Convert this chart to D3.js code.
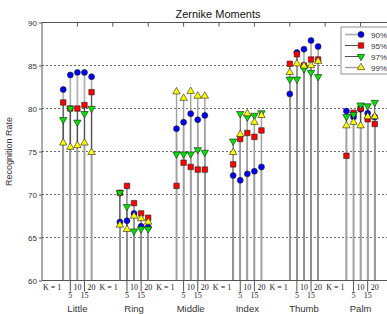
<!DOCTYPE html>
<html>
<head>
<meta charset="utf-8">
<script src="https://cdn.jsdelivr.net/npm/d3@7"></script>
<style>
  body { margin: 0; background: #fff; }
  svg { display: block; }
</style>
</head>
<body>
<svg id="chart"></svg>
<script>
const groups = ["Little", "Ring", "Middle", "Index", "Thumb", "Palm"];
const kValues = [1, 5, 10, 15, 20];
const seriesNames = ["90%", "95%", "97%", "99%"];

// recognition rate per group, K = 1, 5, 10, 15, 20
const rate90 = [
  82.2, 83.9, 84.2, 84.2, 83.7,
  66.8, 66.95, 67.8, 66.3, 66.2,
  77.65, 78.4, 79.4, 78.7, 79.2,
  72.2, 71.65, 72.4, 72.7, 73.2,
  81.7, 86.5, 86.9, 87.9, 87.2,
  79.7, 79.0, 79.9, 79.45, 79.0
];
const rate95 = [
  80.7, 80.0, 80.0, 80.4, 81.9,
  70.2, 71.0, 69.0, 67.8, 67.3,
  71.0, 73.7, 73.2, 72.9, 72.9,
  73.5, 76.45, 77.15, 76.7, 77.45,
  85.2, 86.3, 85.0, 85.7, 85.7,
  74.5, 79.5, 80.0, 78.75, 78.2
];
const rate97 = [
  78.7, 80.0, 78.4, 79.4, 80.0,
  70.2, 68.6, 65.75, 66.0, 66.0,
  74.7, 74.7, 74.7, 75.2, 74.9,
  76.2, 79.4, 79.0, 79.2, 79.5,
  83.4, 83.4, 84.6, 84.2, 83.7,
  79.05, 79.3, 80.4, 80.3, 80.7
];
const rate99 = [
  76.0, 75.5, 75.7, 76.0, 74.9,
  66.45, 65.95, 67.5, 67.2, 66.8,
  81.95, 81.2, 82.0, 81.45, 81.45,
  74.9, 77.0, 79.4, 78.4, 79.2,
  84.2, 85.2, 84.95, 85.0, 85.5,
  78.0, 78.4, 78.0, 79.05, 79.05
];
const yTicks = [60, 65, 70, 75, 80, 85, 90];

const W = 387, H = 314;
const svg = d3.select("#chart").attr("width", W).attr("height", H);

const x = d3.scaleLinear().domain([0, 50]).range([42, 396]);
const y = d3.scaleLinear().domain([60, 90]).range([280.5, 22.5]);
const pos = (g, i) => 8 * g + i + 3;

const series = [
  { name: seriesNames[0], values: rate90, fill: "#0000f0", stem: "#b4b4b4", sw: 1.8, shape: d3.symbolCircle, size: 28 },
  { name: seriesNames[1], values: rate95, fill: "#ff0000", stem: "#505050", sw: 1, shape: d3.symbolSquare, size: 30 },
  { name: seriesNames[2], values: rate97, fill: "#00e000", stem: "#505050", sw: 1, shape: d3.symbolTriangle, size: 24, flip: true },
  { name: seriesNames[3], values: rate99, fill: "#ffff00", stem: "#a0a0a0", sw: 1.4, shape: d3.symbolTriangle, size: 24 }
];

const points = s => s.values.map((v, j) => ({ v, x: x(pos(Math.floor(j / 5), j % 5)) }));

// grid
svg.append("g").selectAll("line")
  .data(yTicks.filter(t => t > 60 && t < 90))
  .join("line")
  .attr("x1", x(0)).attr("x2", W)
  .attr("y1", d => y(d)).attr("y2", d => y(d))
  .attr("stroke", "#444").attr("stroke-width", 0.8)
  .attr("stroke-dasharray", "2,2");

// stems
series.forEach(s => {
  svg.append("g").selectAll("line")
    .data(points(s))
    .join("line")
    .attr("x1", d => d.x).attr("x2", d => d.x)
    .attr("y1", y(60)).attr("y2", d => y(d.v))
    .attr("stroke", s.stem).attr("stroke-width", s.sw);
});

// frame
svg.append("path")
  .attr("d", `M${W},${y(90)}H${x(0)}V${y(60)}H${W}`)
  .attr("fill", "none").attr("stroke", "#555").attr("stroke-width", 1);

// top ticks
svg.append("g").selectAll("line")
  .data(d3.range(5, 51, 5))
  .join("line")
  .attr("x1", d => x(d)).attr("x2", d => x(d))
  .attr("y1", y(90)).attr("y2", y(90) + 4)
  .attr("stroke", "#555");

// y axis
const yAxis = svg.append("g")
  .attr("transform", `translate(${x(0)},0)`)
  .call(d3.axisLeft(y).tickValues(yTicks).tickSize(3).tickPadding(2));
yAxis.select(".domain").remove();
yAxis.selectAll("line").attr("stroke", "#555");
yAxis.selectAll("text")
  .style("font-family", "Liberation Sans, Arial, sans-serif")
  .style("font-size", "8px").attr("fill", "#333");

// markers
series.forEach(s => {
  svg.append("g").selectAll("path")
    .data(points(s))
    .join("path")
    .attr("d", d3.symbol(s.shape, s.size))
    .attr("transform", d => `translate(${d.x},${y(d.v)})` + (s.flip ? " rotate(180)" : ""))
    .attr("fill", s.fill).attr("stroke", "#222").attr("stroke-width", 0.6);
});

// K labels
const kFont = "Liberation Serif, Times New Roman, serif";
groups.forEach((g, gi) => {
  kValues.forEach((k, i) => {
    const px = x(pos(gi, i));
    const low = i === 1 || i === 3;
    if (low) {
      svg.append("line")
        .attr("x1", px).attr("x2", px)
        .attr("y1", y(60)).attr("y2", y(60) + 11)
        .attr("stroke", "#555").attr("stroke-width", 1);
    }
    svg.append("text")
      .attr("x", i === 0 ? px - 2 : px)
      .attr("y", low ? 298 : 290)
      .attr("text-anchor", i === 0 ? "end" : "middle")
      .style("font-family", kFont).style("font-size", "8px")
      .attr("fill", "#222")
      .text(i === 0 ? `K = ${k}` : k);
  });
  svg.append("text")
    .attr("x", x(pos(gi, 2)))
    .attr("y", 312)
    .attr("text-anchor", "middle")
    .style("font-family", "Liberation Sans, Arial, sans-serif")
    .style("font-size", "9.5px").attr("fill", "#333")
    .text(g);
});

// title and y label
svg.append("text")
  .attr("x", 218).attr("y", 18)
  .attr("text-anchor", "middle")
  .style("font-family", "Liberation Sans, Arial, sans-serif")
  .style("font-size", "11px").attr("fill", "#111")
  .text("Zernike Moments");

svg.append("text")
  .attr("transform", `translate(12,${(y(60) + y(90)) / 2}) rotate(-90)`)
  .attr("text-anchor", "middle")
  .style("font-family", "Liberation Sans, Arial, sans-serif")
  .style("font-size", "9px").attr("fill", "#333")
  .text("Recognition Rate");

// legend
const lg = svg.append("g").attr("transform", "translate(341,27)");
lg.append("rect")
  .attr("width", 50).attr("height", 47)
  .attr("fill", "#fff").attr("stroke", "#777").attr("stroke-width", 0.8);
series.forEach((s, i) => {
  const ly = 7.5 + i * 11;
  lg.append("line")
    .attr("x1", 4).attr("x2", 20).attr("y1", ly).attr("y2", ly)
    .attr("stroke", s.stem).attr("stroke-width", s.sw);
  lg.append("path")
    .attr("d", d3.symbol(s.shape, s.size))
    .attr("transform", `translate(20,${ly})` + (s.flip ? " rotate(180)" : ""))
    .attr("fill", s.fill).attr("stroke", "#222").attr("stroke-width", 0.6);
  lg.append("text")
    .attr("x", 30).attr("y", ly + 3)
    .style("font-family", "Liberation Sans, Arial, sans-serif")
    .style("font-size", "8px").attr("fill", "#333")
    .text(s.name);
});
</script>
</body>
</html>
